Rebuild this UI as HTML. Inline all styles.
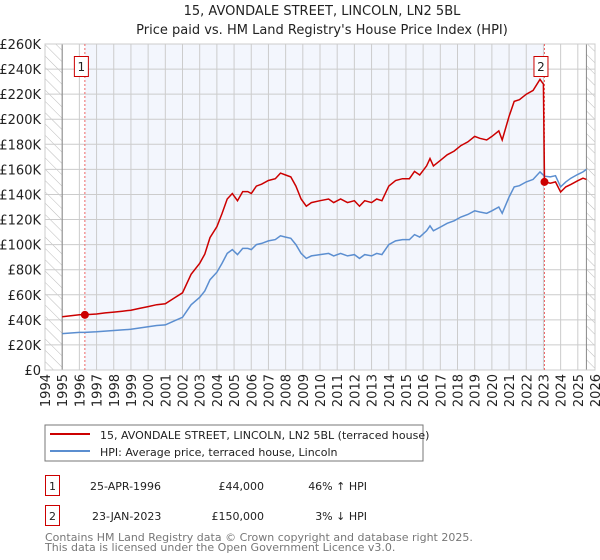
<!DOCTYPE html>
<html><head><meta charset="utf-8"><style>
body{margin:0;width:600px;height:560px;background:#fff;font-family:"DejaVu Sans","Liberation Sans",sans-serif;overflow:hidden}
</style></head><body>
<svg id="c" width="600" height="560" xmlns="http://www.w3.org/2000/svg" style="position:absolute;left:0;top:0">
<defs><pattern id="hatch" width="8" height="8" patternUnits="userSpaceOnUse" patternTransform="rotate(-45)"><line x1="0" y1="0" x2="0" y2="8" stroke="#bbb" stroke-width="1"/></pattern></defs>
<text x="322" y="15" text-anchor="middle" font-size="13" fill="#222">15, AVONDALE STREET, LINCOLN, LN2 5BL</text>
<text x="322" y="34" text-anchor="middle" font-size="13" fill="#222">Price paid vs. HM Land Registry's House Price Index (HPI)</text>
<g id="plot"></g>
<rect x="45" y="425" width="378" height="36" fill="#fff" stroke="#777"/>
<line x1="50" y1="434" x2="90" y2="434" stroke="#cc0000" stroke-width="2"/>
<text x="100" y="439" font-size="11" fill="#222">15, AVONDALE STREET, LINCOLN, LN2 5BL (terraced house)</text>
<line x1="50" y1="451" x2="90" y2="451" stroke="#5b8ed0" stroke-width="2"/>
<text x="100" y="456" font-size="11" fill="#222">HPI: Average price, terraced house, Lincoln</text>
<g font-size="11" fill="#222">
<rect x="45.5" y="475.5" width="14" height="20" fill="none" stroke="#cc0000"/>
<text x="52.5" y="490" text-anchor="middle">1</text>
<text x="90" y="490">25-APR-1996</text>
<text x="264" y="490" text-anchor="end">£44,000</text>
<text x="367" y="490" text-anchor="end">46% ↑ HPI</text>
<rect x="45.5" y="505.5" width="14" height="20" fill="none" stroke="#cc0000"/>
<text x="52.5" y="520" text-anchor="middle">2</text>
<text x="92" y="520">23-JAN-2023</text>
<text x="264" y="520" text-anchor="end">£150,000</text>
<text x="367" y="520" text-anchor="end">3% ↓ HPI</text>
</g>
<text x="45" y="541" font-size="11" fill="#777">Contains HM Land Registry data © Crown copyright and database right 2025.</text>
<text x="45" y="551" font-size="11" fill="#777">This data is licensed under the Open Government Licence v3.0.</text>
</svg>
<script>
const hpiYears=[1995.0,1995.5,1996.0,1996.32,1997.0,1997.5,1998.0,1998.5,1999.0,1999.5,2000.0,2000.5,2001.0,2001.5,2002.0,2002.5,2003.0,2003.3,2003.6,2004.0,2004.3,2004.6,2004.9,2005.2,2005.5,2005.8,2006.0,2006.3,2006.6,2007.0,2007.4,2007.7,2008.0,2008.3,2008.6,2008.9,2009.2,2009.5,2010.0,2010.5,2010.8,2011.2,2011.6,2012.0,2012.3,2012.6,2013.0,2013.3,2013.6,2014.0,2014.4,2014.8,2015.2,2015.5,2015.8,2016.2,2016.4,2016.6,2017.0,2017.4,2017.8,2018.2,2018.6,2019.0,2019.3,2019.7,2020.0,2020.4,2020.6,2021.0,2021.3,2021.6,2022.0,2022.4,2022.8,2023.06,2023.4,2023.7,2024.0,2024.3,2024.6,2025.0,2025.3,2025.5];
const hpiValues=[29,29.5,30,30,30.5,31,31.5,32,32.5,33.5,34.5,35.5,36,39,42,52,58,63,72,78,85,93,96,92,97,97,96,100,101,103,104,107,106,105,100,93,89,91,92,93,91,93,91,92,89,92,91,93,92,100,103,104,104,108,106,111,115,111,114,117,119,122,124,127,126,125,127,130,125,138,146,147,150,152,158,154.6,154,155,146,150,153,156,158,160];
const priceYears=[1995.0,1995.5,1996.0,1996.32,1997.0,1997.5,1998.0,1998.5,1999.0,1999.5,2000.0,2000.5,2001.0,2001.5,2002.0,2002.5,2003.0,2003.3,2003.6,2004.0,2004.3,2004.6,2004.9,2005.2,2005.5,2005.8,2006.0,2006.3,2006.6,2007.0,2007.4,2007.7,2008.0,2008.3,2008.6,2008.9,2009.2,2009.5,2010.0,2010.5,2010.8,2011.2,2011.6,2012.0,2012.3,2012.6,2013.0,2013.3,2013.6,2014.0,2014.4,2014.8,2015.2,2015.5,2015.8,2016.2,2016.4,2016.6,2017.0,2017.4,2017.8,2018.2,2018.6,2019.0,2019.3,2019.7,2020.0,2020.4,2020.6,2021.0,2021.3,2021.6,2022.0,2022.4,2022.8,2023.0,2023.06,2023.4,2023.7,2024.0,2024.3,2024.6,2025.0,2025.3,2025.5];
const priceValues=[42.5,43.3,44,44,44.7,45.5,46.2,46.9,47.7,49.1,50.6,52.1,52.8,57.2,61.6,76.3,85.1,92.4,105.6,114.4,124.7,136.4,140.8,135,142.3,142.3,140.8,146.7,148.2,151.1,152.6,157,155.5,154,146.7,136.4,130.6,133.5,135,136.4,133.5,136.4,133.5,135,130.6,135,133.5,136.4,135,146.7,151.1,152.6,152.6,158.4,155.5,162.8,168.7,162.8,167.2,171.6,174.6,179,181.9,186.3,184.8,183.4,186.3,190.7,183.4,202.4,214.2,215.6,220,223,231.8,228,150,149,150,142,146,148,151,153,152];
const saleYears=[1996.32,2023.06];
const saleValues=[44,150];
const saleLabels=["1","2"];
const yTicks=[0,20,40,60,80,100,120,140,160,180,200,220,240,260];
const xTicks=[1994,1995,1996,1997,1998,1999,2000,2001,2002,2003,2004,2005,2006,2007,2008,2009,2010,2011,2012,2013,2014,2015,2016,2017,2018,2019,2020,2021,2022,2023,2024,2025,2026];

const L=45,R=595,T=44,B=370;
const x=y=>L+(y-1994)/(2026-1994)*(R-L);
const yv=v=>B-v/260*(B-T);
const g=document.getElementById('plot');
const NS='http://www.w3.org/2000/svg';
function mk(t,a){const e=document.createElementNS(NS,t);for(const k in a)e.setAttribute(k,a[k]);g.appendChild(e);return e;}
let e;
e=mk('rect',{x:L,y:T,width:R-L,height:B-T,fill:'#fff'});


e=mk('rect',{x:x(saleYears[0]),y:T,width:x(saleYears[1])-x(saleYears[0]),height:B-T,fill:'#f3f6fd'});


e=mk('rect',{x:L,y:T,width:x(1995)-L,height:B-T,fill:'url(#hatch)'});


e=mk('rect',{x:x(2025.5),y:T,width:R-x(2025.5),height:B-T,fill:'url(#hatch)'});


yTicks.forEach(v=>{
 e=mk('line',{x1:L,x2:R,y1:yv(v),y2:yv(v),stroke:'#ccc'});
 
 
 e=mk('text',{x:L-4,y:yv(v)+5,'text-anchor':'end','font-size':13,fill:'#222'});
 e.textContent=v===0?'£0':'£'+v+'K';
 
 
});
xTicks.forEach(yr=>{
 e=mk('line',{x1:x(yr),x2:x(yr),y1:T,y2:B,stroke:'#ccc'});
 
 
 e=mk('text',{x:0,y:0,'text-anchor':'end','font-size':13,fill:'#222',transform:`translate(${x(yr)+5},${B+4}) rotate(-90)`});
 e.textContent=yr;
 
 
});
e=mk('line',{x1:x(1995),x2:x(1995),y1:T,y2:B,stroke:'#888'});


e=mk('line',{x1:x(2025.5),x2:x(2025.5),y1:T,y2:B,stroke:'#888'});


e=mk('rect',{x:L,y:T,width:R-L,height:B-T,fill:'none',stroke:'#ccc'});


saleYears.forEach((s,i)=>{
 e=mk('line',{x1:x(s),x2:x(s),y1:T,y2:B,stroke:'#e66','stroke-dasharray':'2,2'});
 
 
});
e=mk('path',{d:'M'+hpiYears.map((t,i)=>x(t).toFixed(1)+','+yv(hpiValues[i]).toFixed(1)).join('L'),fill:'none',stroke:'#5b8ed0','stroke-width':1.5});


e=mk('path',{d:'M'+priceYears.map((t,i)=>x(t).toFixed(1)+','+yv(priceValues[i]).toFixed(1)).join('L'),fill:'none',stroke:'#cc0000','stroke-width':1.5});


saleYears.forEach((s,i)=>{
 e=mk('circle',{cx:x(s),cy:yv(saleValues[i]),r:4,fill:'#cc0000'});
 
 
 e=mk('rect',{x:x(s)-10.5,y:56.5,width:14,height:20,fill:'#fff',stroke:'#cc0000'});
 
 
 e=mk('text',{x:x(s)-3.5,y:71,'text-anchor':'middle','font-size':12,fill:'#222'});
 e.textContent=saleLabels[i];
 
 
});
</script>
</body></html>
